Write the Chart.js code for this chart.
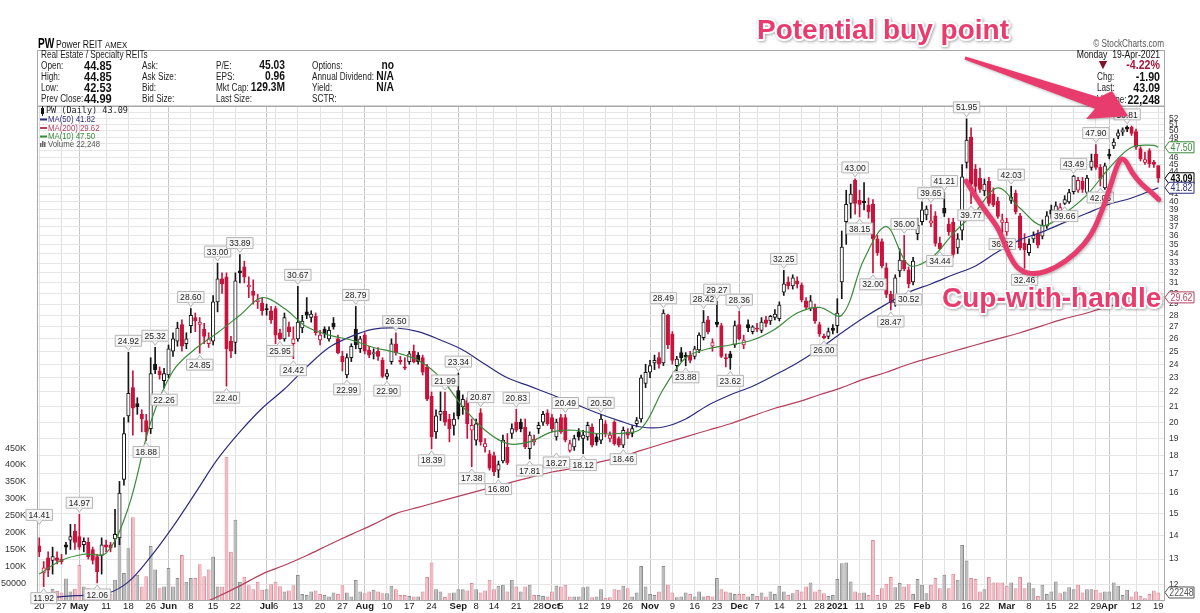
<!DOCTYPE html>
<html lang="en">
<head>
<meta charset="UTF-8">
<title>PW Power REIT - Daily</title>
<script src="https://cdn.jsdelivr.net/npm/chart.js"></script>
<style>
    html, body { margin: 0; padding: 0; background: #fff; }
    #chartBox { width: 1200px; height: 613px; }
</style>
</head>
<body>
<div id="chartBox"><canvas id="pwChart" width="1200" height="613"></canvas></div>
<script>
// trading calendar, Apr 20 2020 .. Apr 19 2021
var holidays = ['2020-05-25', '2020-07-03', '2020-09-07', '2020-11-26', '2020-12-25',
                '2021-01-01', '2021-01-18', '2021-02-15', '2021-04-02'];
var days = [];
for (var d = new Date(Date.UTC(2020, 3, 20)); d <= new Date(Date.UTC(2021, 3, 19)); d.setUTCDate(d.getUTCDate() + 1)) {
    var s = d.toISOString().slice(0, 10);
    if (d.getUTCDay() === 0 || d.getUTCDay() === 6 || holidays.indexOf(s) >= 0) continue;
    days.push(s);
}

// x axis labels (weekly, month names bold)
var tickMarks = {
    '2020-04-20': '20', '2020-04-27': '27', '2020-05-01': 'May', '2020-05-11': '11', '2020-05-18': '18',
    '2020-05-26': '26', '2020-06-01': 'Jun', '2020-06-08': '8', '2020-06-15': '15', '2020-06-22': '22',
    '2020-07-01': 'Jul', '2020-07-06': '6', '2020-07-13': '13', '2020-07-20': '20', '2020-07-27': '27',
    '2020-08-03': 'Aug', '2020-08-10': '10', '2020-08-17': '17', '2020-08-24': '24', '2020-09-01': 'Sep',
    '2020-09-08': '8', '2020-09-14': '14', '2020-09-21': '21', '2020-09-28': '28', '2020-10-01': 'Oct',
    '2020-10-05': '5', '2020-10-12': '12', '2020-10-19': '19', '2020-10-26': '26', '2020-11-02': 'Nov',
    '2020-11-09': '9', '2020-11-16': '16', '2020-11-23': '23', '2020-12-01': 'Dec', '2020-12-07': '7',
    '2020-12-14': '14', '2020-12-21': '21', '2020-12-28': '28', '2021-01-04': '2021', '2021-01-11': '11',
    '2021-01-19': '19', '2021-01-25': '25', '2021-02-01': 'Feb', '2021-02-08': '8', '2021-02-16': '16',
    '2021-02-22': '22', '2021-03-01': 'Mar', '2021-03-08': '8', '2021-03-15': '15', '2021-03-22': '22',
    '2021-03-29': '29', '2021-04-01': 'Apr', '2021-04-12': '12', '2021-04-19': '19'
};
var monthNames = ['May', 'Jun', 'Jul', 'Aug', 'Sep', 'Oct', 'Nov', 'Dec', '2021', 'Feb', 'Mar', 'Apr'];

// one row per week
var opens = [
    13.55, 12.45, 13.05, 12.95, 13.05,
    13.0, 13.6, 13.8, 14.2, 13.95,
    13.6, 13.7, 13.4, 13.1, 13.15,
    13.6, 13.6, 13.85, 13.9, 16.7,
    20.4, 22.3, 21.2, 20.5, 20.1,
    19.6, 24.0, 23.5, 22.8,
    23.2, 25.0, 25.8, 27.2, 25.6,
    27.1, 27.8, 27.2, 26.8, 25.6,
    25.8, 29.2, 31.4, 31.6, 25.8,
    25.7, 32.2, 32.6, 30.6, 30.2,
    29.2, 29.1, 28.6, 28.4,
    28.6, 26.5, 26.0, 27.0, 25.6,
    26.0, 26.9, 28.3, 27.8, 27.9,
    25.9, 26.8, 26.0, 27.3, 26.0,
    24.6, 23.2, 24.5, 26.8, 25.2,
    26.3, 25.1, 24.8, 25.0, 24.3,
    23.1, 24.2, 25.6, 24.3, 23.8,
    24.2, 25.0, 24.7, 24.5, 23.8,
    21.7, 19.4, 20.5, 20.7, 20.2,
    19.8, 22.1, 21.0, 21.4, 19.5,
    18.9, 20.6, 18.5, 18.1,
    18.0, 17.2, 17.7, 18.5, 19.3,
    20.0, 20.0, 19.7, 18.4, 18.8,
    19.6, 20.0, 20.6, 20.3, 19.1,
    20.3, 20.3, 18.3, 18.5, 19.4,
    19.0, 19.1, 19.7, 19.1, 18.9,
    19.9, 19.0, 20.0, 19.0, 18.6,
    19.4, 19.3, 19.9, 20.2, 22.6,
    23.4, 24.1, 24.5, 24.1, 28.0,
    26.4, 23.9, 24.9, 24.7, 24.7,
    24.6, 25.1, 26.1, 27.6, 25.4,
    27.4, 27.1, 24.5, 24.8,
    25.5, 27.2, 25.5, 27.2, 26.6,
    26.9, 26.7, 27.6, 27.5, 27.8,
    27.7, 30.1, 31.1, 30.7, 31.2,
    30.8, 29.3, 28.6, 28.7,
    27.2, 26.2, 26.2, 26.9,
    27.1, 31.1, 37.6, 39.8, 42.8,
    40.2, 40.1, 39.6, 39.7, 35.6,
    35.3, 32.5, 29.9, 29.1,
    32.2, 33.3, 32.3, 31.1, 36.2,
    37.6, 38.4, 37.4, 38.3, 35.1,
    39.2, 37.3, 37.5, 34.6, 36.6,
    45.3, 49.0, 44.3, 43.1,
    41.4, 42.7, 41.0, 40.1, 37.5,
    36.4, 40.2, 41.1, 38.3, 35.1,
    34.1, 35.6, 36.2, 35.9, 37.1,
    39.0, 38.3, 38.9, 39.8, 40.0,
    41.3, 41.5, 42.7, 41.2, 44.6,
    46.5, 44.6, 41.8, 46.5,
    47.7, 49.2, 49.8, 50.6, 50.6,
    49.9, 47.3, 45.3, 47.0, 45.3,
    44.85
];
var highs = [
    13.9, 12.9, 13.3, 13.5, 13.3,
    13.2, 13.7, 14.5, 14.5, 14.97,
    13.9, 13.9, 13.5, 13.2, 13.9,
    13.8, 13.7, 15.2, 16.6, 20.3,
    24.92, 23.5, 21.6, 20.8, 20.5,
    24.5, 25.32, 23.8, 23.7,
    25.5, 26.5, 27.4, 27.6, 26.5,
    28.6, 28.2, 27.8, 27.3, 26.5,
    29.8, 33.0, 32.0, 32.0, 26.2,
    32.0, 33.89, 33.2, 31.6, 31.3,
    29.9, 29.6, 29.0, 28.8,
    28.8, 26.8, 28.2, 27.4, 27.0,
    30.67, 28.0, 29.6, 28.4, 28.2,
    26.7, 27.0, 27.0, 27.8, 26.3,
    25.0, 24.8, 25.6, 28.79, 26.2,
    26.5, 25.4, 25.2, 25.3, 24.5,
    23.6, 26.0, 26.5, 24.6, 24.5,
    25.0, 25.5, 24.9, 24.7, 24.0,
    22.0, 20.8, 22.0, 21.99, 20.5,
    20.6, 23.34, 21.8, 21.6, 20.2,
    20.2, 20.87, 19.0, 18.3,
    18.2, 17.7, 19.2, 19.3, 19.9,
    20.83, 20.2, 20.2, 19.4, 19.2,
    20.0, 20.7, 20.8, 20.5, 20.2,
    20.5, 20.49, 18.9, 19.2, 19.6,
    19.5, 20.0, 19.9, 19.3, 20.5,
    20.1, 19.4, 20.1, 19.1, 19.7,
    19.6, 19.8, 20.3, 23.2, 24.0,
    24.3, 24.7, 24.9, 28.49, 28.1,
    26.6, 24.6, 25.3, 24.9, 25.0,
    25.4, 26.5, 28.42, 27.9, 26.0,
    29.27, 27.3, 24.8, 25.0,
    27.5, 28.36, 26.3, 27.6, 27.1,
    27.3, 27.8, 27.9, 28.0, 28.5,
    29.2, 32.25, 31.6, 31.8, 31.6,
    31.0, 29.6, 29.8, 29.0,
    27.4, 26.4, 26.9, 27.2,
    29.5, 36.5, 41.5, 42.3, 43.0,
    41.5, 42.5, 40.5, 40.3, 36.0,
    35.6, 33.0, 30.2, 31.8,
    34.5, 36.0, 32.6, 33.6, 38.0,
    40.0, 39.5, 39.65, 38.8, 35.8,
    41.21, 38.0, 38.0, 36.2, 45.0,
    51.95, 50.5, 45.0, 44.5,
    43.0, 43.2, 41.8, 40.6, 38.5,
    38.0, 42.03, 41.5, 38.6, 36.2,
    35.6, 36.4, 36.6, 37.8, 38.8,
    39.6, 40.0, 39.8, 40.8, 41.6,
    43.49, 43.2, 43.2, 43.5, 46.5,
    47.9, 45.0, 45.2, 47.2,
    48.8, 50.2, 50.5, 50.81, 50.8,
    50.3, 47.6, 46.8, 47.3, 45.6,
    44.85
];
var lows = [
    13.1, 11.92, 12.3, 12.4, 12.8,
    12.8, 13.2, 13.4, 13.4, 13.4,
    13.3, 13.0, 12.8, 12.06, 12.4,
    13.3, 13.3, 13.5, 13.6, 16.4,
    20.0, 19.2, 20.5, 19.4, 18.88,
    19.3, 23.3, 22.9, 22.26,
    23.0, 24.6, 25.4, 25.0, 25.2,
    26.5, 26.6, 24.85, 25.6, 25.3,
    25.5, 28.3, 30.0, 22.4, 24.5,
    24.8, 31.0, 31.0, 29.6, 29.0,
    28.6, 28.0, 28.0, 27.3,
    25.6, 25.95, 25.8, 26.2, 24.42,
    25.8, 26.5, 27.7, 27.4, 26.3,
    25.5, 26.1, 25.8, 26.8, 24.8,
    23.5, 22.99, 24.2, 25.2, 24.9,
    24.8, 24.5, 24.4, 24.3, 23.0,
    22.9, 24.0, 24.7, 24.0, 23.6,
    24.0, 24.1, 24.0, 23.2, 21.4,
    18.39, 19.0, 20.1, 19.8, 18.8,
    19.2, 20.2, 20.5, 19.0, 17.38,
    18.6, 18.6, 18.2, 17.2,
    16.9, 16.8, 17.6, 17.5, 19.0,
    19.4, 19.4, 18.4, 17.81, 18.6,
    19.3, 19.8, 19.8, 19.4, 18.9,
    19.3, 18.8, 18.2, 18.3, 18.9,
    18.12, 18.9, 18.5, 18.6, 18.7,
    19.1, 18.8, 18.6, 18.5, 18.46,
    19.0, 19.1, 19.7, 20.0, 22.3,
    23.0, 23.6, 23.7, 23.9, 25.2,
    24.0, 23.5, 24.2, 23.88, 24.1,
    24.4, 24.9, 25.9, 26.4, 25.0,
    27.0, 24.5, 23.8, 23.62,
    25.3, 25.9, 25.2, 26.6, 26.4,
    26.6, 26.5, 27.0, 27.2, 27.6,
    27.5, 29.8, 30.4, 30.4, 30.5,
    29.2, 28.5, 28.4, 27.3,
    26.2, 26.0, 26.0, 26.4,
    26.5, 29.5, 35.0, 38.0, 38.5,
    38.15, 39.0, 38.0, 32.0, 33.8,
    32.5, 29.6, 28.47, 28.8,
    31.6, 32.2, 30.52, 30.8, 35.5,
    37.2, 37.8, 37.0, 34.8, 34.44,
    38.2, 36.0, 33.6, 34.0, 35.5,
    44.5, 39.77, 41.0, 41.2,
    40.8, 39.5, 39.4, 38.0, 36.32,
    36.0, 39.8, 38.5, 34.4, 32.46,
    33.8, 35.2, 34.6, 35.6, 36.8,
    38.0, 38.0, 38.5, 39.66, 39.8,
    41.0, 41.2, 41.2, 41.0, 44.2,
    44.3, 42.05, 41.6, 45.8,
    47.3, 48.8, 49.3, 49.9, 49.3,
    47.2, 45.5, 45.0, 44.6, 44.6,
    42.53
];
var closes = [
    13.3, 12.65, 12.55, 13.1, 12.95,
    12.9, 13.5, 13.95, 13.7, 13.5,
    13.75, 13.1, 12.95, 12.5, 13.6,
    13.5, 13.45, 14.05, 16.0, 19.3,
    21.9, 20.9, 21.0, 20.2, 19.4,
    23.3, 23.6, 23.2, 23.3,
    25.2, 26.0, 26.9, 25.4, 26.0,
    28.0, 27.5, 27.4, 26.2, 26.0,
    29.2, 31.4, 30.9, 25.2, 25.0,
    31.2, 32.0, 31.6, 30.8, 29.8,
    29.4, 28.4, 28.5, 27.6,
    26.3, 26.0, 27.8, 26.6, 26.0,
    27.4, 27.5, 28.0, 28.1, 26.5,
    26.3, 26.4, 26.7, 27.0, 24.9,
    24.2, 24.5, 25.4, 25.5, 26.0,
    25.0, 24.7, 24.9, 24.6, 23.1,
    23.3, 25.6, 24.9, 24.2, 23.7,
    24.8, 24.2, 24.2, 23.4, 21.5,
    19.1, 20.4, 20.7, 20.0, 19.6,
    20.2, 20.4, 21.5, 19.9, 19.8,
    19.9, 18.8, 18.7, 17.3,
    17.1, 17.5, 18.9, 17.6, 19.6,
    19.5, 19.6, 18.5, 19.2, 18.95,
    19.8, 20.5, 19.9, 19.6, 20.0,
    19.4, 18.9, 18.7, 19.0, 19.1,
    19.2, 19.8, 18.6, 18.8, 20.2,
    19.3, 19.2, 18.7, 18.6, 19.5,
    19.2, 19.6, 20.1, 23.0, 23.4,
    23.9, 24.3, 24.0, 28.2, 25.5,
    24.3, 24.4, 24.5, 24.55, 24.3,
    25.2, 26.3, 27.4, 26.6, 25.7,
    27.2, 24.6, 24.4, 24.5,
    27.1, 26.0, 25.9, 26.9, 27.0,
    26.8, 27.4, 27.3, 27.9, 28.1,
    28.9, 30.9, 30.7, 31.5, 30.9,
    29.4, 28.7, 29.3, 27.5,
    26.4, 26.1, 26.6, 26.7,
    28.2, 34.7, 39.7, 41.0, 39.8,
    39.7, 39.9, 38.8, 35.6, 34.1,
    32.7, 29.9, 29.1, 31.5,
    33.3, 32.4, 30.9, 33.2, 37.2,
    39.0, 39.1, 37.7, 35.1, 34.5,
    38.6, 36.4, 33.9, 35.6, 43.3,
    48.6, 42.3, 42.0, 41.6,
    42.3, 39.8, 39.6, 38.2, 37.8,
    37.5, 40.6, 38.8, 34.6, 34.4,
    35.0, 36.0, 34.9, 37.2, 38.3,
    38.5, 39.5, 39.3, 40.3, 41.2,
    43.4, 42.8, 41.6, 43.1, 45.5,
    44.6, 43.0, 44.8, 46.2,
    48.3, 49.7, 50.2, 50.3, 49.6,
    47.5, 45.8, 45.7, 45.1, 44.99,
    43.09
];
var volumes = [
    12000, 15000, 18000, 33000, 27000,
    22000, 64000, 25000, 33000, 104000,
    40000, 35000, 25000, 40000, 30000,
    20000, 18000, 60000, 187000, 80000,
    153000, 245000, 75000, 40000, 70000,
    160000, 90000, 35000, 40000,
    95000, 40000, 65000, 133000, 54000,
    65000, 65000, 106000, 70000, 90000,
    128000, 40000, 40000, 424000, 143000,
    238000, 54000, 69000, 44000, 32000,
    54000, 30000, 32000, 47000,
    54000, 41000, 25000, 28000, 44000,
    74000, 18000, 15000, 25000, 28000,
    18000, 15000, 10000, 22000, 18000,
    44000, 22000, 10000, 59000, 25000,
    20000, 25000, 30000, 25000, 20000,
    20000, 42000, 32000, 15000, 15000,
    12000, 10000, 10000, 25000, 68000,
    111000, 32000, 25000, 9000, 20000,
    22000, 32000, 32000, 28000, 50000,
    32000, 22000, 28000, 60000,
    32000, 42000, 45000, 25000, 60000,
    40000, 25000, 40000, 45000, 15000,
    15000, 12000, 10000, 25000, 43000,
    40000, 45000, 10000, 10000, 10000,
    38000, 40000, 8000, 10000, 32000,
    7000, 8000, 32000, 30000, 42000,
    35000, 10000, 22000, 101000, 40000,
    18000, 15000, 25000, 101000, 45000,
    22000, 8000, 10000, 22000, 18000,
    10000, 25000, 10000, 12000, 10000,
    65000, 32000, 25000, 22000,
    18000, 18000, 18000, 10000, 18000,
    12000, 22000, 10000, 25000, 18000,
    42000, 25000, 15000, 20000, 30000,
    25000, 40000, 52000, 25000,
    30000, 20000, 12000, 15000,
    62000, 109000, 111000, 55000, 25000,
    20000, 22000, 15000, 178000, 15000,
    35000, 48000, 68000, 38000,
    50000, 40000, 47000, 18000, 62000,
    45000, 20000, 45000, 65000, 35000,
    75000, 35000, 78000, 60000, 163000,
    117000, 65000, 62000, 25000,
    32000, 68000, 52000, 52000, 52000,
    42000, 52000, 35000, 68000, 35000,
    52000, 35000, 12000, 45000, 18000,
    25000, 55000, 20000, 25000, 38000,
    32000, 45000, 22000, 32000, 32000,
    30000, 22000, 25000, 25000,
    52000, 42000, 15000, 30000, 10000,
    25000, 12000, 5000, 18000, 28000,
    22248
];

// moving averages read every 5th session (index 0, 5, 10 ...), plus the last session
var maStep = 5;
var ma10Read = [12.4, 12.95, 13.2, 13.25, 15.3, 20.0, 23.5, 25.2, 26.5, 28.0,
    29.6, 28.6, 27.0, 26.3, 25.9, 25.3, 24.9, 24.3, 23.0, 21.0,
    19.5, 18.7, 18.8, 19.4, 19.5, 19.3, 19.3, 19.6, 22.2, 24.5,
    25.2, 25.5, 25.9, 26.8, 28.2, 28.7, 28.0, 33.4, 37.0, 32.8,
    33.5, 36.2, 38.8, 41.8, 39.2, 37.1, 38.6, 40.9, 44.5, 47.5, 47.8];
var ma50Read = [11.45, 11.55, 11.6, 11.65, 12.1, 13.1, 14.4, 16.0, 17.8, 19.4,
    20.9, 22.2, 23.8, 25.3, 26.2, 26.8, 26.9, 26.6, 25.9, 25.1,
    24.0, 23.0, 22.4, 21.8, 21.2, 20.6, 20.1, 19.7, 19.7, 20.2,
    21.1, 21.8, 22.4, 23.2, 24.1, 25.2, 26.5, 27.8, 29.0, 30.1,
    30.9, 31.8, 32.7, 34.2, 35.5, 36.4, 37.5, 38.6, 39.7, 40.5, 41.6];
var ma200Start = 35;
var ma200Read = [11.2, 11.55, 11.95, 12.4, 12.75, 13.15, 13.6, 14.05, 14.5, 15.0,
    15.3, 15.6, 15.9, 16.2, 16.5, 16.8, 17.1, 17.3, 17.6, 17.9,
    18.3, 18.7, 19.1, 19.5, 19.9, 20.4, 20.9, 21.3, 21.8, 22.3,
    22.9, 23.4, 24.0, 24.5, 25.0, 25.5, 26.0, 26.5, 27.1, 27.7,
    28.2, 28.8, 29.2, 29.6];
var ma10Last = 47.50, ma50Last = 41.82, ma200Last = 29.62;

// price axis: one grid line per dollar
var priceTicks = [];
for (var p = 12; p <= 53; p++) priceTicks.push(p);
var volTicks = [50000, 100000, 150000, 200000, 250000, 300000, 350000, 400000, 450000];

// swing high / low callouts: [session index, price]
var highMarks = [[0, 14.41], [9, 14.97], [20, 24.92], [26, 25.32], [34, 28.60], [40, 33.00], [45, 33.89],
    [58, 30.67], [71, 28.79], [80, 26.50], [91, 21.99], [94, 23.34], [99, 20.87], [107, 20.83],
    [118, 20.49], [126, 20.50], [140, 28.49], [149, 28.42], [152, 29.27], [157, 28.36], [167, 32.25],
    [183, 43.00], [194, 36.00], [200, 39.65], [203, 41.21], [208, 51.95], [218, 42.03], [232, 43.49],
    [237, 47.90], [244, 50.81]];
var lowMarks = [[1, 11.92], [13, 12.06], [24, 18.88], [28, 22.26], [36, 24.85], [42, 22.40], [54, 25.95],
    [57, 24.42], [69, 22.99], [78, 22.90], [88, 18.39], [97, 17.38], [103, 16.80], [110, 17.81],
    [116, 18.27], [122, 18.12], [131, 18.46], [145, 23.88], [155, 23.62], [176, 26.00], [184, 38.15],
    [187, 32.00], [191, 28.47], [195, 30.52], [202, 34.44], [209, 39.77], [216, 36.32], [221, 32.46],
    [230, 39.66], [238, 42.05]];

// hand drawn cup outline, [session index, price]
var cupTrace = [[207.9, 42.7], [210, 40.7], [212.3, 38.8], [214.5, 37.3], [215.9, 35.9], [217.4, 33.9],
    [219.7, 32.2], [223.5, 31.8], [228, 32.5], [232.5, 34.0], [236.1, 36.1], [238.3, 38.8], [239.9, 41.4],
    [241.4, 44.3], [242.5, 45.9], [243.7, 45.6], [245, 43.9], [247.3, 42.2], [249.3, 41.3], [251.1, 40.3]];

var RED = '#c8143c', BLACK = '#151515', PINK = '#e93c6e';
var NAVY = '#2c2c7e', MAROON = '#b3405c', GREEN = '#3b8a3b';
var SANS = '"Liberation Sans", Arial, sans-serif';
var SQUEEZE = 0.82;   // the screenshot text is narrow, like Arial Narrow

var tickText = {};
days.forEach(function (dd, i) { if (tickMarks[dd]) tickText[i] = tickMarks[dd]; });
// one blank slot after the last session, the plot keeps a small right margin
var slots = days.concat(['']);

var dayColor = closes.map(function (c, i) { return (i > 0 && c >= closes[i - 1]) ? BLACK : RED; });
var bodyFill = closes.map(function (c, i) { return c > opens[i] ? '#ffffff' : dayColor[i]; });
var volFill = dayColor.map(function (c) { return c === BLACK ? '#b9b9b9' : '#f2b9c2'; });
var volEdge = dayColor.map(function (c) { return c === BLACK ? '#8a8a8a' : '#d98a97'; });

function placeRead(start, vals, last) {
    var out = days.map(function () { return null; });
    vals.forEach(function (v, k) { out[start + k * maStep] = v; });
    out[days.length - 1] = last;
    return out;
}

function sans(size, bold) { return (bold ? 'bold ' : '') + size + 'px ' + SANS; }

function drawText(c, txt, x, y, font, color, align, squeeze) {
    c.font = font;
    c.fillStyle = color;
    c.textAlign = align || 'left';
    var w = c.measureText(txt).width * (squeeze || SQUEEZE);
    if (w > 0) c.fillText(txt, x, y, w);
}

function shoutText(c, txt, x, y) {
    c.save();
    c.font = 'bold 28px ' + SANS;
    c.textBaseline = 'alphabetic';
    c.textAlign = 'left';
    c.lineJoin = 'round';
    c.shadowColor = 'rgba(0,0,0,0.35)';
    c.shadowBlur = 3;
    c.shadowOffsetX = 1;
    c.shadowOffsetY = 1;
    c.strokeStyle = '#ffffff';
    c.lineWidth = 4;
    c.strokeText(txt, x, y);
    c.shadowColor = 'transparent';
    c.fillStyle = PINK;
    c.fillText(txt, x, y);
    c.restore();
}

function sideTag(c, y, txt, color, bold) {
    var x0 = 1165;
    c.beginPath();
    c.moveTo(x0, y);
    c.lineTo(x0 + 4, y - 5.5);
    c.lineTo(x0 + 29, y - 5.5);
    c.lineTo(x0 + 29, y + 5.5);
    c.lineTo(x0 + 4, y + 5.5);
    c.closePath();
    c.fillStyle = '#ffffff';
    c.fill();
    c.strokeStyle = color;
    c.lineWidth = 1;
    c.stroke();
    drawText(c, txt, x0 + 16.5, y + 0.5, sans(10, bold), color, 'center', 0.88);
}

var pwDecor = {
    id: 'pwDecor',
    beforeDraw: function (chart) {
        var c = chart.ctx;
        c.save();
        c.fillStyle = '#ffffff';
        c.fillRect(0, 0, chart.width, chart.height);
        c.textBaseline = 'middle';

        drawText(c, 'PW', 38, 44, sans(14, true), '#000', 'left', 0.72);
        drawText(c, 'Power REIT', 56, 45, sans(10.5), '#111');
        drawText(c, 'AMEX', 105, 45, sans(9.5), '#111');
        c.strokeStyle = '#a8a8a8';
        c.lineWidth = 1;
        c.strokeRect(37.5, 50.5, 1127, 55.5);

        drawText(c, 'Real Estate / Specialty REITs', 41, 55, sans(10), '#222');
        var rows = [66, 77, 88, 99];
        var col1 = ['Open:', 'High:', 'Low:', 'Prev Close:'];
        var val1 = ['44.85', '44.85', '42.53', '44.99'];
        var col2 = ['Ask:', 'Ask Size:', 'Bid:', 'Bid Size:'];
        var col3 = ['P/E:', 'EPS:', 'Mkt Cap:', 'Last Size:'];
        var val3 = ['45.03', '0.96', '129.3M', ''];
        var col4 = ['Options:', 'Annual Dividend:', 'Yield:', 'SCTR:'];
        var val4 = ['no', 'N/A', 'N/A', ''];
        rows.forEach(function (y, r) {
            drawText(c, col1[r], 41, y, sans(10), '#222');
            drawText(c, val1[r], 84, y, sans(13.5, true), '#111');
            drawText(c, col2[r], 142, y, sans(10), '#222');
            drawText(c, col3[r], 216, y, sans(10), '#222');
            drawText(c, val3[r], 285, y, sans(12.5, true), '#111', 'right');
            drawText(c, col4[r], 312, y, sans(10), '#222');
            drawText(c, val4[r], 394, y, sans(12.5, true), '#111', 'right');
        });

        drawText(c, '\u00a9 StockCharts.com', 1164, 44, sans(10), '#555', 'right');
        drawText(c, 'Monday  19-Apr-2021', 1160, 55, sans(10.5), '#111', 'right');
        drawText(c, '\u25bc', 1103, 65, '11px "DejaVu Sans"', '#7e1426', 'center', 1);
        drawText(c, '-4.22%', 1160, 65, sans(13, true), '#a4183a', 'right');
        drawText(c, 'Chg:', 1097, 77, sans(10), '#222');
        drawText(c, '-1.90', 1160, 77, sans(13, true), '#111', 'right');
        drawText(c, 'Last:', 1097, 88, sans(10), '#222');
        drawText(c, '43.09', 1160, 88, sans(13, true), '#111', 'right');
        drawText(c, 'Volume:', 1097, 100, sans(10), '#222');
        drawText(c, '22,248', 1160, 100, sans(13, true), '#111', 'right');
        c.restore();
    },
    afterDatasetsDraw: function (chart) {
        var c = chart.ctx, xs = chart.scales.x, ys = chart.scales.y, vs = chart.scales.vol;
        var area = chart.chartArea;
        c.save();
        c.strokeStyle = '#a8a8a8';
        c.lineWidth = 1;
        c.strokeRect(area.left + 0.5, area.top + 0.5, area.right - area.left - 1, area.bottom - area.top);

        // callouts
        c.textBaseline = 'middle';
        function callout(i, v, up) {
            var x = xs.getPixelForValue(i), y = ys.getPixelForValue(v);
            var txt = v.toFixed(2);
            c.font = sans(9.5);
            var w = c.measureText(txt).width * 0.9 + 5, h = 11;
            var tip = up ? y - 2 : y + 2, edge = up ? y - 6 : y + 6;
            var top = up ? edge - h : edge;
            c.beginPath();
            c.rect(x - w / 2, top, w, h);
            c.fillStyle = '#f7f7f7';
            c.fill();
            c.strokeStyle = '#b5b5b5';
            c.stroke();
            c.beginPath();
            c.moveTo(x - 3, edge);
            c.lineTo(x, tip);
            c.lineTo(x + 3, edge);
            c.fillStyle = '#f7f7f7';
            c.fill();
            c.stroke();
            drawText(c, txt, x, top + h / 2 + 0.5, sans(9.5), '#222', 'center', 0.9);
        }
        highMarks.forEach(function (m) { callout(m[0], m[1], true); });
        lowMarks.forEach(function (m) { callout(m[0], m[1], false); });

        // legend block
        c.fillStyle = BLACK;
        c.fillRect(41, 108, 3, 6);
        c.fillRect(42, 106, 1, 10);
        drawText(c, 'PW (Daily) 43.09', 46, 111, '8.5px "DejaVu Sans Mono"', '#222', 'left', 1);
        [[NAVY, 'MA(50) 41.82', 119.5], [MAROON, 'MA(200) 29.62', 128], [GREEN, 'MA(10) 47.50', 136.5]].forEach(function (l) {
            c.fillStyle = l[0];
            c.fillRect(40, l[2] - 1, 7, 2);
            drawText(c, l[1], 48, l[2], sans(9.5), l[0]);
        });
        c.fillStyle = '#666';
        c.fillRect(40, 143, 1.5, 4);
        c.fillRect(42, 141, 1.5, 6);
        c.fillRect(44, 142, 1.5, 5);
        drawText(c, 'Volume 22,248', 48, 144.5, sans(9.5), '#555');

        // right side value tags
        sideTag(c, ys.getPixelForValue(ma10Last), '47.50', GREEN, false);
        sideTag(c, ys.getPixelForValue(closes[closes.length - 1]), '43.09', '#000', true);
        sideTag(c, ys.getPixelForValue(ma50Last), '41.82', NAVY, false);
        sideTag(c, ys.getPixelForValue(ma200Last), '29.62', MAROON, false);
        sideTag(c, vs.getPixelForValue(volumes[volumes.length - 1]), '22248', '#555', false);
        c.restore();
    },
    afterDraw: function (chart) {
        var c = chart.ctx, xs = chart.scales.x, ys = chart.scales.y;
        c.save();
        // arrow toward the April high
        c.shadowColor = 'rgba(0,0,0,0.3)';
        c.shadowBlur = 3;
        c.shadowOffsetX = 1;
        c.shadowOffsetY = 1;
        c.fillStyle = PINK;
        c.beginPath();
        c.moveTo(965.5, 56.6);
        c.lineTo(1099, 97.3);
        c.lineTo(1112, 91);
        c.lineTo(1128, 116);
        c.lineTo(1086, 119);
        c.lineTo(1095, 108.7);
        c.lineTo(964.5, 59.4);
        c.closePath();
        c.fill();

        // cup outline
        var pts = cupTrace.map(function (q) { return [xs.getPixelForValue(q[0]), ys.getPixelForValue(q[1])]; });
        c.beginPath();
        c.moveTo(pts[0][0], pts[0][1]);
        for (var k = 1; k < pts.length - 1; k++) {
            var mx = (pts[k][0] + pts[k + 1][0]) / 2, my = (pts[k][1] + pts[k + 1][1]) / 2;
            c.quadraticCurveTo(pts[k][0], pts[k][1], mx, my);
        }
        c.lineTo(pts[pts.length - 1][0], pts[pts.length - 1][1]);
        c.strokeStyle = PINK;
        c.lineWidth = 5;
        c.lineCap = 'round';
        c.lineJoin = 'round';
        c.stroke();
        c.restore();

        shoutText(c, 'Potential buy point', 757, 39);
        shoutText(c, 'Cup-with-handle', 942, 307);
    }
};

var ctx = document.getElementById('pwChart').getContext('2d');
var pwChart = new Chart(ctx, {
    type: 'bar',
    data: {
        labels: slots,
        datasets: [
            { type: 'line', label: 'MA(10)', data: placeRead(0, ma10Read, ma10Last), yAxisID: 'y',
              borderColor: GREEN, borderWidth: 1.2, pointRadius: 0, spanGaps: true, tension: 0.35, order: 0 },
            { type: 'line', label: 'MA(50)', data: placeRead(0, ma50Read, ma50Last), yAxisID: 'y',
              borderColor: NAVY, borderWidth: 1.2, pointRadius: 0, spanGaps: true, tension: 0.35, order: 0 },
            { type: 'line', label: 'MA(200)', data: placeRead(ma200Start, ma200Read, ma200Last), yAxisID: 'y',
              borderColor: MAROON, borderWidth: 1.2, pointRadius: 0, spanGaps: true, tension: 0.35, order: 0 },
            { label: 'body', data: opens.map(function (o, i) { return [o, closes[i]]; }), yAxisID: 'y',
              backgroundColor: bodyFill, borderColor: dayColor, borderWidth: 1, borderSkipped: false,
              barThickness: 3.5, minBarLength: 1, grouped: false, order: 2 },
            { label: 'wick', data: lows.map(function (l, i) { return [l, highs[i]]; }), yAxisID: 'y',
              backgroundColor: dayColor, barThickness: 1, grouped: false, order: 3 },
            { label: 'Volume', data: volumes, yAxisID: 'vol',
              backgroundColor: volFill, borderColor: volEdge, borderWidth: 1,
              barPercentage: 0.85, categoryPercentage: 1, grouped: false, order: 10 }
        ]
    },
    options: {
        responsive: false,
        animation: false,
        devicePixelRatio: 1,
        events: [],
        layout: { padding: { top: 106, left: 0, right: 0, bottom: 0 } },
        plugins: { legend: { display: false }, tooltip: { enabled: false } },
        scales: {
            x: {
                type: 'category',
                offset: true,
                border: { display: false },
                grid: {
                    offset: false,
                    drawTicks: false,
                    color: function (c) {
                        return c.tick && monthNames.indexOf(tickText[c.tick.value]) >= 0 ? '#c6c6c6' : '#e2e2e2';
                    }
                },
                ticks: {
                    autoSkip: false,
                    maxRotation: 0,
                    padding: 1,
                    color: '#1a1a1a',
                    font: function (c) {
                        var bold = c.tick && monthNames.indexOf(tickText[c.tick.value]) >= 0;
                        return { family: SANS, size: 9.5, weight: bold ? 'bold' : 'normal' };
                    },
                    callback: function (v) { return tickText[v]; }
                },
                afterBuildTicks: function (s) {
                    s.ticks = s.ticks.filter(function (t) { return tickText[t.value] !== undefined; });
                },
                afterFit: function (s) { s.height = 13; }
            },
            y: {
                type: 'logarithmic',
                position: 'right',
                min: 11.43,
                max: 54.09,
                border: { display: false },
                grid: { color: '#e6e6e6', drawTicks: false },
                ticks: {
                    autoSkip: false,
                    padding: 4,
                    color: '#333',
                    font: { family: SANS, size: 8.5 },
                    callback: function (v) { return v <= 52 ? String(v) : ''; }
                },
                afterBuildTicks: function (s) {
                    s.ticks = priceTicks.map(function (v) { return { value: v }; });
                },
                afterFit: function (s) { s.width = 35; }
            },
            vol: {
                type: 'linear',
                position: 'left',
                min: 0,
                max: 1463000,
                border: { display: false },
                grid: { display: false },
                ticks: {
                    autoSkip: false,
                    padding: 3,
                    color: '#333',
                    font: { family: SANS, size: 9 },
                    callback: function (v) { return v === 50000 ? '50000' : (v / 1000) + 'K'; }
                },
                afterBuildTicks: function (s) {
                    s.ticks = volTicks.map(function (v) { return { value: v }; });
                },
                afterFit: function (s) { s.width = 37; }
            }
        }
    },
    plugins: [pwDecor]
});
</script>
</body>
</html>
